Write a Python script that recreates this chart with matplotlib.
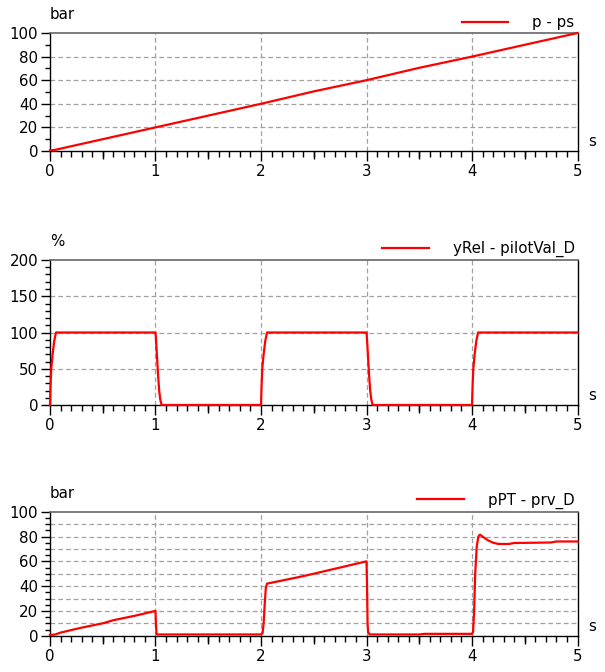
import numpy as np
import matplotlib.pyplot as plt
from matplotlib.ticker import MultipleLocator

plt.rcParams['font.family'] = ['DejaVu Sans']
plt.rcParams['font.size'] = 10.8
plt.rcParams['lines.scale_dashes'] = False

# p - ps (bar)
t_p = [0.0, 0.05, 0.1, 0.2, 0.5, 1.0, 1.5, 2.0, 2.5, 3.0, 3.5, 4.0, 4.5, 5.0]
p_ps = [0.5, 1.0, 2.0, 4.0, 10.0, 20.0, 30.0, 40.0, 50.5, 60.0, 70.5, 80.0, 90.0, 100.0]

# yRel - pilotVal_D (%)
t_y = [0.0, 0.005, 0.012, 0.025, 0.04, 0.057, 1.0, 1.005, 1.015, 1.025, 1.035, 1.045, 1.057, 1.07,
       2.0, 2.005, 2.012, 2.025, 2.04, 2.057, 3.0, 3.005, 3.015, 3.025, 3.035, 3.045, 3.057, 3.07,
       4.0, 4.005, 4.012, 4.025, 4.04, 4.057, 5.0]
y_rel = [0, 25, 50, 70, 88, 100, 100, 90, 65, 40, 20, 8, 0.5, 0,
         0, 25, 50, 70, 88, 100, 100, 90, 65, 40, 20, 8, 0.5, 0,
         0, 25, 50, 70, 88, 100, 100]

# pPT - prv_D (bar)
t_pt = [0.0, 0.05, 0.1, 0.2, 0.3, 0.5, 0.6, 0.8, 1.0, 1.005, 1.01, 1.02, 2.0,
        2.015, 2.025, 2.035, 2.045, 2.057, 2.37, 2.5, 3.0, 3.005, 3.01, 3.015, 3.03, 3.5, 3.55, 4.0,
        4.01, 4.02, 4.03, 4.045, 4.06, 4.075, 4.1, 4.15, 4.2, 4.25, 4.35, 4.4, 4.6, 4.75, 4.8, 5.0]
p_pt = [0.5, 1.0, 2.5, 4.5, 6.5, 10.0, 12.5, 16.0, 20.0, 8.0, 1.5, 1.0, 1.0,
        2.0, 10.0, 25.0, 38.0, 42.0, 47.5, 50.0, 60.0, 40.0, 10.0, 3.0, 1.0, 1.0, 1.5, 1.5,
        3.0, 20.0, 50.0, 72.0, 80.0, 81.5, 80.0, 77.0, 75.0, 74.0, 74.0, 74.8, 75.0, 75.2, 76.0, 76.0]

panels = [
    dict(t=t_p, v=p_ps, unit='bar', label='p - ps', ymax=100, major=20, minor=10,
         grid=[20, 40, 60, 80], rect=[0.0826, 0.7753, 0.872, 0.1756]),
    dict(t=t_y, v=y_rel, unit='%', label='yRel - pilotVal_D', ymax=200, major=50, minor=10,
         grid=[50, 100, 150], rect=[0.0826, 0.3973, 0.872, 0.2158]),
    dict(t=t_pt, v=p_pt, unit='bar', label='pPT - prv_D', ymax=100, major=20, minor=5,
         grid=[10, 20, 30, 40, 50, 60, 70, 80, 90], rect=[0.0826, 0.0540, 0.872, 0.1845]),
]

fig = plt.figure(figsize=(6.05, 6.72), dpi=100)
grid_style = dict(color='#a0a0a0', lw=0.9, dashes=(3.4, 2.2), zorder=1)

for pn in panels:
    ax = fig.add_axes(pn['rect'])
    ax.set_xlim(0, 5)
    ax.set_ylim(0, pn['ymax'])
    for g in pn['grid']:
        ax.axhline(g, **grid_style)
    for g in [1, 2, 3, 4]:
        ax.axvline(g, **grid_style)
    ax.plot(pn['t'], pn['v'], color='#ff0000', lw=1.6, zorder=3,
            label=pn['label'], clip_on=False)

    ax.xaxis.set_major_locator(MultipleLocator(1))
    ax.xaxis.set_minor_locator(MultipleLocator(0.1))
    ax.yaxis.set_major_locator(MultipleLocator(pn['major']))
    ax.yaxis.set_minor_locator(MultipleLocator(pn['minor']))
    ax.tick_params(axis='x', which='major', length=7.5, width=1, pad=2)
    ax.tick_params(axis='x', which='minor', length=4, width=1)
    ax.tick_params(axis='y', which='major', length=6.5, width=1, pad=2)
    ax.tick_params(axis='y', which='minor', length=3.8, width=1)

    # half-second ticks are a bit longer than the others
    sec = ax.secondary_xaxis('bottom')
    sec.set_xticks([0.5, 1.5, 2.5, 3.5, 4.5])
    sec.tick_params(length=5.5, width=1, labelbottom=False)
    sec.spines['bottom'].set_visible(False)

    for side in ['left', 'bottom', 'right']:
        ax.spines[side].set_color('black')
        ax.spines[side].set_linewidth(1)
    ax.spines['top'].set_color('#666666')
    ax.spines['top'].set_linewidth(1.2)

    ax.annotate(pn['unit'], xy=(0, 1), xycoords='axes fraction',
                xytext=(0, 8), textcoords='offset points', ha='left', va='bottom')
    ax.annotate('s', xy=(1, 0), xycoords='axes fraction',
                xytext=(8, 1.5), textcoords='offset points', ha='left', va='bottom')

    ax.legend(loc='lower right', bbox_to_anchor=(1.0, 1.0), frameon=False,
              borderaxespad=0.2, borderpad=0, handlelength=3.1, handletextpad=1.6)

fig.savefig('out.png', dpi=100)
